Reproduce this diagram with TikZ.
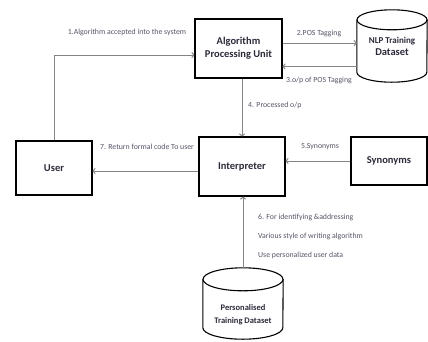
\documentclass[tikz,border=0pt]{standalone}
\usepackage{fontspec}
\setmainfont{Carlito}
\usetikzlibrary{arrows.meta,calc}
\definecolor{linegray}{HTML}{858585}
\definecolor{labgray}{HTML}{555566}
\definecolor{boxtext}{HTML}{2A2A3A}
\tikzset{
  box/.style={draw=black,line width=1.2pt,rectangle,inner sep=0pt,align=center,
    font=\fontsize{10.5}{13}\selectfont\bfseries,text=boxtext},
  cylnode/.style={rectangle,inner sep=0pt,align=center,text=boxtext},
  cyl/.style={draw=black,line width=1.1pt},
  arr/.style={draw=linegray,line width=1pt,-{To[length=3pt,width=6pt]}},
  lab/.style={font=\fontsize{7.8}{9}\selectfont,text=labgray,inner sep=0pt},
}
\begin{document}
\begin{tikzpicture}[x=1pt,y=1pt]
\useasboundingbox (0,0) rectangle (428,-341);
% boxes
\node[box,minimum width=87,minimum height=59] (apu) at (238.5,-48.5) {Algorithm\\Processing Unit};
\node[box,minimum width=86,minimum height=59] (interp) at (242,-166.5) {Interpreter};
\node[box,minimum width=76,minimum height=48] (syn) at (389,-161) {Synonyms};
\node[box,minimum width=76,minimum height=54] (user) at (54,-168) {User};
% cylinders
\node[cylnode,minimum width=70,minimum height=72,font=\bfseries] (nlp) at (392,-46) {\fontsize{9}{14}\selectfont NLP Training\\\fontsize{10.5}{14}\selectfont Dataset};
\node[cylnode,minimum width=80,minimum height=71,font=\fontsize{8.5}{13}\selectfont\bfseries] (pers) at (243,-303.5) {\\[16pt]Personalised\\Training Dataset};
\draw[cyl] ([yshift=-10]nlp.north west) -- ([yshift=10]nlp.south west)
  arc[start angle=180,end angle=360,x radius=35,y radius=10]
  -- ([yshift=-10]nlp.north east);
\draw[cyl] ([yshift=-10]nlp.north) ellipse[x radius=35,y radius=10];
\draw[cyl] ([yshift=-11.5]pers.north west) -- ([yshift=11.5]pers.south west)
  arc[start angle=180,end angle=360,x radius=40,y radius=11.5]
  -- ([yshift=-11.5]pers.north east);
\draw[cyl] ([yshift=-11.5]pers.north) ellipse[x radius=40,y radius=11.5];
% connectors
\draw[arr] (user.north) |- ([yshift=-6.5]apu.west);
\draw[arr] ([yshift=5.5]apu.east) -- ([yshift=5.5]apu.east -| nlp.west);
\draw[arr] ([yshift=-20.5]nlp.west) -- ([yshift=-20.5]nlp.west -| apu.east);
\draw[arr] (interp.north |- apu.south) -- (interp.north);
\draw[arr] (syn.west) -- (syn.west -| interp.east);
\draw[arr] ([yshift=-4.5]interp.west) -- ([yshift=-4.5]interp.west -| user.east);
\draw[arr] (pers.north) -- (pers.north |- interp.south);
% labels
\node[lab] (l1) at (127,-32) {1.Algorithm accepted into the system};
\node[lab] (l2) at (319,-33) {2.POS Tagging};
\node[lab] (l3) at (319,-80) {3.o/p of POS Tagging};
\node[lab,anchor=west] (l4) at (248,-105) {4. Processed o/p};
\node[lab] (l5) at (320,-147) {5.Synonyms};
\node[lab] (l7) at (147,-147) {7. Return formal code To user};
\node[lab,anchor=west] (l6a) at (258,-217) {6. For identifying \&addressing};
\node[lab,anchor=west] (l6b) at (258,-236) {Various style of writing algorithm};
\node[lab,anchor=west] (l6c) at (258,-255) {Use personalized user data};
\end{tikzpicture}
\end{document}
